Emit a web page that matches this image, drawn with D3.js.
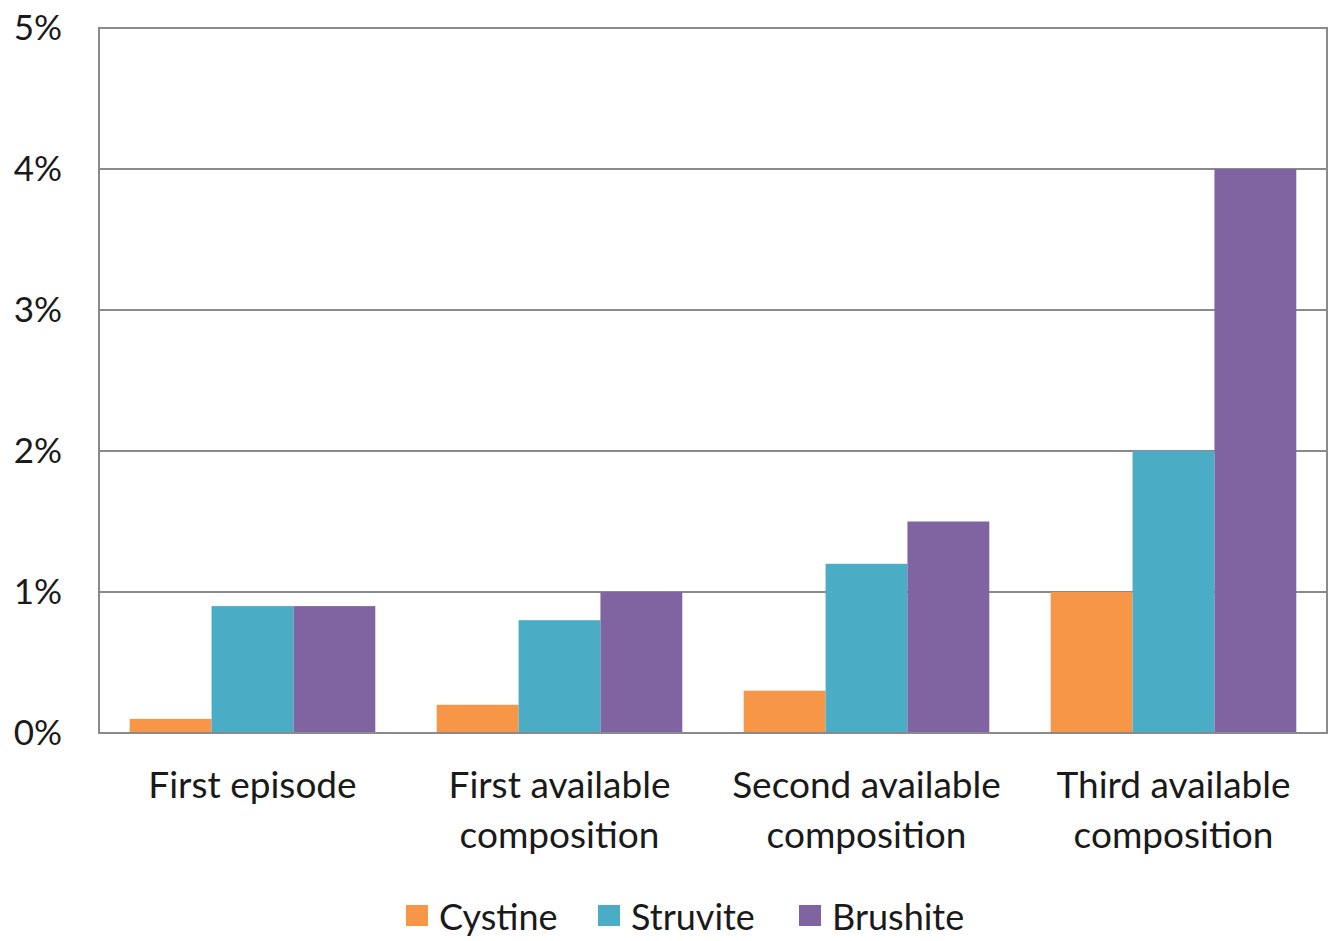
<!DOCTYPE html>
<html lang="en">
<head>
    <meta charset="UTF-8">
    <title>Stone composition</title>
    <style>
        body {
            margin: 0;
            padding: 0;
            background-color: #ffffff;
        }
        svg text {
            font-family: Lato, "Open Sans", sans-serif;
            fill: #1a1a1a;
        }
    </style>
</head>
<body>
    <svg id="chart" width="1334" height="941"></svg>

    <script src="https://d3js.org/d3.v7.min.js"></script>
    <script>
        // categories (each one is one or two lines of label text)
        var categories = [
            ['First episode'],
            ['First available', 'composition'],
            ['Second available', 'composition'],
            ['Third available', 'composition']
        ];
        var seriesNames = ['Cystine', 'Struvite', 'Brushite'];
        var seriesColors = ['#F79646', '#4BACC6', '#8064A2'];

        // values in percent
        var cystine = [0.1, 0.2, 0.3, 1.0];
        var struvite = [0.9, 0.8, 1.2, 2.0];
        var brushite = [0.9, 1.0, 1.5, 4.0];

        var yTicks = [0, 1, 2, 3, 4, 5];

        var seriesValues = [cystine, struvite, brushite];

        var margin = { top: 28, right: 7, bottom: 208, left: 99 };
        var width = 1334 - margin.left - margin.right;
        var height = 941 - margin.top - margin.bottom;

        var svg = d3.select('#chart')
            .append('g')
            .attr('transform', 'translate(' + margin.left + ',' + margin.top + ')');

        var catIdx = categories.map((d, i) => i);

        var xScale = d3.scaleBand()
            .domain(catIdx)
            .range([0, width])
            .paddingInner(0.2)
            .paddingOuter(0.1);

        var xInner = d3.scaleBand()
            .domain(seriesNames)
            .range([0, xScale.bandwidth()]);

        var yScale = d3.scaleLinear()
            .domain([0, 5])
            .range([height, 0]);

        // gridlines
        svg.append('g')
            .selectAll('line')
            .data(yTicks)
            .enter()
            .append('line')
            .attr('x1', 0)
            .attr('x2', width)
            .attr('y1', d => yScale(d))
            .attr('y2', d => yScale(d))
            .style('stroke', '#8a8a8a')
            .style('stroke-width', 2);

        // bars
        var groups = svg.selectAll('.group')
            .data(catIdx)
            .enter()
            .append('g')
            .attr('class', 'group')
            .attr('transform', d => 'translate(' + xScale(d) + ',0)');

        groups.selectAll('rect')
            .data(c => seriesNames.map((s, j) => ({ s: s, j: j, v: seriesValues[j][c] })))
            .enter()
            .append('rect')
            .attr('x', d => xInner(d.s))
            .attr('width', xInner.bandwidth())
            .attr('y', d => yScale(d.v))
            .attr('height', d => height - yScale(d.v))
            .style('fill', d => seriesColors[d.j]);

        // frame
        svg.append('rect')
            .attr('width', width)
            .attr('height', height)
            .style('fill', 'none')
            .style('stroke', '#8a8a8a')
            .style('stroke-width', 2);

        // y axis
        var yAxis = svg.append('g')
            .call(d3.axisLeft(yScale).tickValues(yTicks).tickFormat(d => d + '%').tickSize(0).tickPadding(37));
        yAxis.select('.domain').remove();
        yAxis.selectAll('text')
            .style('font-size', '35px')
            .style('font-family', 'Lato, "Open Sans", sans-serif')
            .attr('fill', '#1a1a1a');

        // category labels
        var catLabels = svg.append('g')
            .selectAll('text')
            .data(catIdx)
            .enter()
            .append('text')
            .attr('x', d => xScale(d) + xScale.bandwidth() / 2)
            .attr('y', height + 65)
            .style('text-anchor', 'middle')
            .style('font-size', '37px');

        catLabels.selectAll('tspan')
            .data(d => categories[d])
            .enter()
            .append('tspan')
            .attr('x', function() { return d3.select(this.parentNode).attr('x'); })
            .attr('dy', (d, i) => i === 0 ? 0 : 50)
            .text(d => d);

        // legend
        var legendX = [406, 598, 799];
        var legend = d3.select('#chart').append('g')
            .selectAll('g')
            .data(seriesNames)
            .enter()
            .append('g')
            .attr('transform', (d, i) => 'translate(' + legendX[i] + ',' + 905 + ')');

        legend.append('rect')
            .attr('width', 22)
            .attr('height', 21)
            .style('fill', (d, i) => seriesColors[i]);

        legend.append('text')
            .attr('x', 33)
            .attr('y', 25)
            .style('font-size', '36px')
            .text(d => d);
    </script>
</body>
</html>
